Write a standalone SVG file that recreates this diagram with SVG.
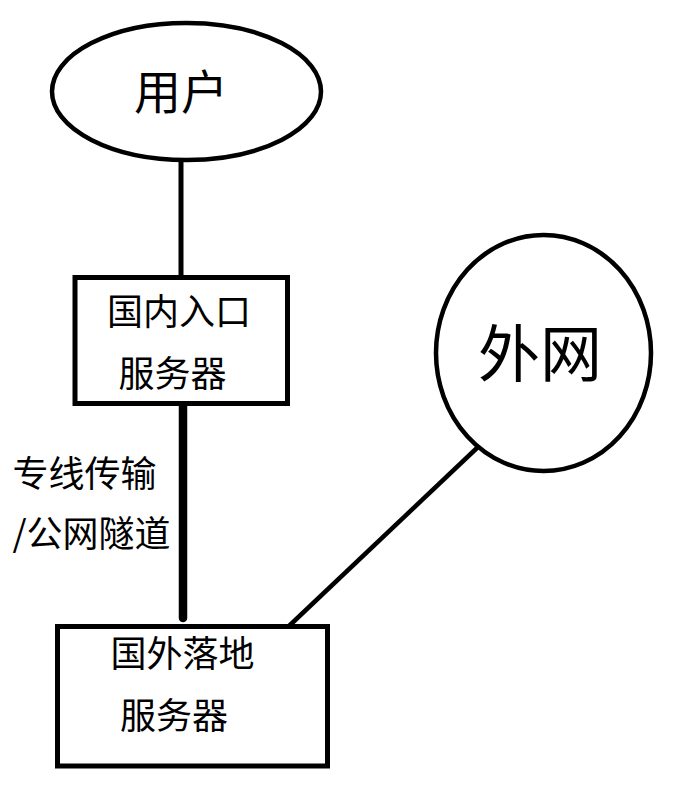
<svg xmlns="http://www.w3.org/2000/svg" width="682" height="797" viewBox="0 0 682 797">
<style>
.shape{fill:#fff;stroke:#000;stroke-width:4.5}
.box{fill:#fff;stroke:#000;stroke-width:5}
.t{font-family:"Microsoft YaHei","Noto Sans CJK SC","Noto Sans",sans-serif;fill:#000;text-anchor:middle}
.edge{stroke:#000;fill:none}
</style>
<rect width="682" height="797" fill="#fff"/>
<g id="connectors">
<line class="edge" x1="181" y1="160" x2="181" y2="278" stroke-width="5"/>
<line class="edge" x1="183" y1="404" x2="183" y2="618" stroke-width="8.5" stroke-linecap="round"/>
<line class="edge" x1="478" y1="447" x2="289" y2="626" stroke-width="4.5"/>
</g>
<g id="user">
<ellipse class="shape" cx="186.5" cy="91.5" rx="134.5" ry="68.5"/>
<text class="t" x="181" y="109" font-size="47">用户</text>
</g>
<g id="entry">
<rect class="box" x="75" y="277.5" width="212.5" height="126"/>
<text class="t" x="179" y="325" font-size="36">国内入口</text>
<text class="t" x="172.5" y="387" font-size="36">服务器</text>
</g>
<g id="internet">
<ellipse class="shape" cx="543.5" cy="353" rx="107.5" ry="118"/>
<text class="t" x="540" y="377" font-size="62">外网</text>
</g>
<g id="exit">
<rect class="box" x="57.5" y="626.5" width="270" height="139.5"/>
<text class="t" x="182.5" y="667" font-size="36">国外落地</text>
<text class="t" x="174" y="729" font-size="36">服务器</text>
</g>
<g id="label">
<text class="t" x="84.5" y="487" font-size="36">专线传输</text>
<text class="t" x="91.5" y="547" font-size="36">/公网隧道</text>
</g>
</svg>
